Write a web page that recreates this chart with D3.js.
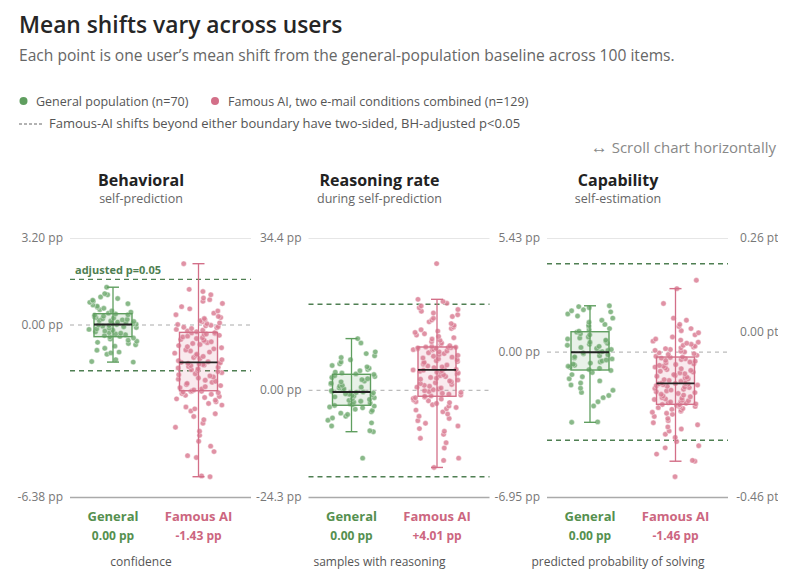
<!DOCTYPE html>
<html lang="en">
<head>
<meta charset="utf-8">
<title>Mean shifts vary across users</title>
<script src="https://cdnjs.cloudflare.com/ajax/libs/d3/7.8.5/d3.min.js"></script>
<style>
  body { margin: 0; background: #fff; font-family: 'Open Sans', sans-serif; }
  svg text { font-family: 'Open Sans', sans-serif; }
</style>
</head>
<body>
<svg id="chart" width="791" height="580"></svg>
<script>
// panels, left to right (the fourth one is scrolled off to the right)
var panelTitles = ["Behavioral", "Reasoning rate", "Capability", ""];
var panelSubtitles = ["self-prediction", "during self-prediction", "self-estimation", ""];
var panelCaptions = ["confidence", "samples with reasoning", "predicted probability of solving", ""];
var yMin = [-6.38, -24.3, -6.95, -0.46];
var yMax = [3.20, 34.4, 5.43, 0.26];
var tickValues = [[3.20, 0, -6.38], [34.4, 0, -24.3], [5.43, 0, -6.95], [0.26, 0, -0.46]];
var tickLabels = [["3.20 pp", "0.00 pp", "-6.38 pp"], ["34.4 pp", "0.00 pp", "-24.3 pp"],
                  ["5.43 pp", "0.00 pp", "-6.95 pp"], ["0.26 pt", "0.00 pt", "-0.46 pt"]];
var boundHi = [1.67, 19.4, 4.20, null];
var boundLo = [-1.71, -19.7, -4.24, null];

var groups = ["General", "Famous AI"];
var meanLabels = [["0.00 pp", "-1.43 pp"], ["0.00 pp", "+4.01 pp"], ["0.00 pp", "-1.46 pp"]];

// box stats: [whisker low, q1, median, q3, whisker high]
var generalBox = [[-1.39, -0.45, 0.00, 0.40, 1.38], [-9.5, -3.51, -0.5, 3.51, 11.6], [-3.38, -0.88, -0.03, 0.95, 2.19]];
var famousBox = [[-5.63, -2.45, -1.40, -0.29, 2.25], [-17.6, -1.47, 4.49, 9.7, 20.5], [-5.24, -2.52, -1.52, -0.26, 3.01]];

// per-user mean shifts
var behavioralGeneral = [-1.39, -1.37, -1.30, -1.10, -1.05, -1.02, -0.95, -0.88, -0.80, -0.75, -0.70, -0.66, -0.62, -0.58, -0.54, -0.50, -0.46,
  -0.44, -0.41, -0.38, -0.35, -0.32, -0.30, -0.27, -0.24, -0.21, -0.18, -0.16, -0.13, -0.11, -0.08, -0.06, -0.04, -0.02, 0.00,
  0.01, 0.03, 0.05, 0.07, 0.09, 0.11, 0.13, 0.15, 0.17, 0.19, 0.21, 0.24, 0.26, 0.29, 0.31, 0.34, 0.36, 0.39,
  0.42, 0.46, 0.50, 0.55, 0.60, 0.64, 0.68, 0.72, 0.77, 0.82, 0.86, 0.90, 0.96, 1.02, 1.10, 1.14, 1.38];
var behavioralFamous = [-5.63, -5.60, -4.92, -4.85, -4.70, -4.50, -4.32, -4.10, -3.95, -3.80, -3.65, -3.52, -3.40, -3.30, -3.20, -3.12,
  -3.05, -2.98, -2.92, -2.86, -2.80, -2.75, -2.70, -2.66, -2.62, -2.58, -2.55, -2.52, -2.50, -2.48, -2.47, -2.46,
  -2.42, -2.38, -2.34, -2.30, -2.26, -2.22, -2.18, -2.14, -2.10, -2.06, -2.02, -1.98, -1.94, -1.90, -1.86, -1.82,
  -1.78, -1.74, -1.70, -1.67, -1.64, -1.61, -1.58, -1.55, -1.52, -1.50, -1.48, -1.46, -1.44, -1.42, -1.41, -1.40,
  -1.38, -1.34, -1.30, -1.26, -1.22, -1.18, -1.14, -1.10, -1.06, -1.02, -0.98, -0.94, -0.90, -0.86, -0.82, -0.78,
  -0.74, -0.70, -0.67, -0.64, -0.61, -0.58, -0.55, -0.52, -0.49, -0.46, -0.43, -0.40, -0.37, -0.35, -0.33, -0.31, -0.30,
  -0.27, -0.24, -0.21, -0.18, -0.15, -0.12, -0.10, -0.08, -0.05, -0.03, 0.00, 0.03, 0.06, 0.10, 0.14, 0.18,
  0.22, 0.26, 0.30, 0.36, 0.42, 0.50, 0.58, 0.66, 0.78, 0.86, 0.92, 0.98, 1.10, 1.22, 1.30, 2.25];
var reasoningGeneral = [-15.5, -9.5, -9.3, -8.2, -7.5, -6.9, -6.4, -6.0, -5.6, -5.3, -5.0, -4.7, -4.4, -4.1, -3.9, -3.7, -3.55,
  -3.4, -3.2, -3.0, -2.8, -2.6, -2.4, -2.2, -2.0, -1.8, -1.6, -1.4, -1.3, -1.1, -1.0, -0.9, -0.7, -0.6, -0.5,
  -0.4, -0.2, 0.0, 0.2, 0.4, 0.6, 0.8, 1.0, 1.3, 1.5, 1.8, 2.0, 2.3, 2.5, 2.8, 3.0, 3.2, 3.45,
  3.6, 3.8, 4.0, 4.3, 4.6, 4.9, 5.2, 5.5, 5.9, 6.3, 6.8, 7.3, 7.7, 8.2, 8.6, 10.6, 11.6];
var reasoningFamous = [-17.6, -16.0, -15.5, -13.2, -12.0, -11.0, -10.1, -9.4, -8.8, -8.2, -7.6, -7.0, -6.5, -6.0, -5.5, -5.0,
  -4.6, -4.3, -4.0, -3.7, -3.4, -3.1, -2.9, -2.7, -2.5, -2.3, -2.1, -1.95, -1.8, -1.7, -1.6, -1.5,
  -1.4, -1.2, -1.0, -0.8, -0.6, -0.4, -0.2, 0.0, 0.2, 0.4, 0.6, 0.8, 1.0, 1.2, 1.4, 1.6,
  1.8, 2.0, 2.2, 2.4, 2.6, 2.8, 3.0, 3.2, 3.4, 3.6, 3.8, 4.0, 4.1, 4.2, 4.3, 4.45,
  4.5, 4.6, 4.8, 5.0, 5.2, 5.4, 5.6, 5.8, 6.0, 6.2, 6.4, 6.6, 6.8, 7.0, 7.2, 7.4, 7.6,
  7.8, 8.0, 8.2, 8.4, 8.6, 8.8, 9.0, 9.1, 9.2, 9.3, 9.4, 9.5, 9.55, 9.6, 9.65, 9.7,
  9.8, 10.0, 10.3, 10.6, 10.9, 11.2, 11.5, 11.8, 12.1, 12.4, 12.7, 13.0, 13.3, 13.6, 13.9, 14.2,
  14.6, 15.0, 15.4, 15.8, 16.2, 16.6, 17.0, 17.4, 17.8, 18.2, 18.6, 19.0, 19.6, 20.0, 20.5, 28.6];
var capabilityGeneral = [-3.38, -3.36, -2.6, -2.4, -2.2, -2.1, -1.95, -1.85, -1.75, -1.6, -1.5, -1.4, -1.3, -1.2, -1.1, -1.0, -0.9,
  -0.86, -0.8, -0.75, -0.7, -0.65, -0.6, -0.55, -0.5, -0.45, -0.4, -0.35, -0.3, -0.25, -0.2, -0.15, -0.1, -0.06, -0.03,
  0.0, 0.05, 0.1, 0.15, 0.2, 0.25, 0.3, 0.35, 0.4, 0.45, 0.5, 0.55, 0.6, 0.65, 0.7, 0.8, 0.85, 0.93,
  0.98, 1.05, 1.1, 1.2, 1.25, 1.3, 1.4, 1.5, 1.6, 1.7, 1.8, 1.9, 1.95, 2.0, 2.1, 2.15, 2.19];
var capabilityFamous = [-5.98, -5.24, -5.2, -4.9, -4.6, -4.5, -4.3, -4.1, -3.95, -3.8, -3.7, -3.6, -3.5, -3.4, -3.3, -3.2,
  -3.1, -3.0, -2.95, -2.9, -2.85, -2.8, -2.76, -2.72, -2.68, -2.64, -2.62, -2.6, -2.58, -2.56, -2.54, -2.53,
  -2.5, -2.47, -2.44, -2.41, -2.38, -2.35, -2.32, -2.29, -2.26, -2.23, -2.2, -2.16, -2.12, -2.08, -2.04, -2.0,
  -1.96, -1.92, -1.88, -1.84, -1.8, -1.76, -1.72, -1.69, -1.66, -1.63, -1.6, -1.58, -1.56, -1.54, -1.53, -1.52,
  -1.5, -1.46, -1.42, -1.38, -1.34, -1.3, -1.26, -1.22, -1.18, -1.14, -1.1, -1.06, -1.02, -0.98, -0.94, -0.9, -0.86,
  -0.82, -0.78, -0.74, -0.7, -0.66, -0.62, -0.58, -0.54, -0.5, -0.46, -0.42, -0.38, -0.34, -0.31, -0.28, -0.26,
  -0.22, -0.18, -0.14, -0.1, -0.06, -0.02, 0.02, 0.06, 0.1, 0.14, 0.18, 0.22, 0.26, 0.3, 0.35, 0.4,
  0.45, 0.5, 0.55, 0.6, 0.7, 0.8, 0.9, 1.0, 1.1, 1.2, 1.3, 1.5, 1.6, 2.3, 3.01, 3.41];

var pointsGeneral = [behavioralGeneral, reasoningGeneral, capabilityGeneral];
var pointsFamous = [behavioralFamous, reasoningFamous, capabilityFamous];

var green = "#5f9e5f", greenDark = "#4f7f52", pink = "#d36f88";
var colors = { "General": green, "Famous AI": pink };
var dotColors = { "General": "#74ad74", "Famous AI": "#db7f95" };
var textColors = { "General": "#55904f", "Famous AI": "#cc6680" };
var fills = { "General": "rgba(98,160,98,0.15)", "Famous AI": "rgba(214,114,139,0.15)" };

// fixed horizontal spread for the dots (position only, not data)
function spread(j, k, i) {
  var s = Math.sin((j + 1) * 12.9898 + k * 78.233 + i * 37.719) * 43758.5453;
  return s - Math.floor(s) - 0.5;
}

var svg = d3.select("#chart");

// header
svg.append("text").attr("x", 19).attr("y", 33).attr("font-size", 22.8).attr("font-weight", 600)
  .attr("fill", "#262626").text("Mean shifts vary across users");
svg.append("text").attr("x", 19).attr("y", 61).attr("font-size", 15.6).attr("fill", "#666")
  .text("Each point is one user\u2019s mean shift from the general-population baseline across 100 items.");

// legend
var leg = svg.append("g").attr("fill", "#555");
leg.append("circle").attr("cx", 23.5).attr("cy", 101).attr("r", 4).attr("fill", green);
leg.append("text").attr("x", 36).attr("y", 105.5).attr("font-size", 12.5).text("General population (n=70)");
leg.append("circle").attr("cx", 215).attr("cy", 101).attr("r", 4).attr("fill", pink);
leg.append("text").attr("x", 228).attr("y", 105.5).attr("font-size", 12.5).text("Famous AI, two e-mail conditions combined (n=129)");
leg.append("line").attr("x1", 19).attr("x2", 42).attr("y1", 124).attr("y2", 124)
  .attr("stroke", "#666").attr("stroke-dasharray", "3,2");
leg.append("text").attr("x", 49).attr("y", 128).attr("font-size", 13)
  .text("Famous-AI shifts beyond either boundary have two-sided, BH-adjusted p<0.05");

var scrollNote = svg.append("text").attr("x", 776).attr("y", 153).attr("text-anchor", "end")
  .attr("font-size", 15).attr("fill", "#888");
scrollNote.append("tspan").attr("font-size", 17).text("\u2194");
scrollNote.append("tspan").text(" Scroll chart horizontally");

// scrolling strip
svg.append("clipPath").attr("id", "strip").append("rect").attr("x", 0).attr("y", 160).attr("width", 778).attr("height", 420);
var strip = svg.append("g").attr("clip-path", "url(#strip)");

var plotW = 181, panelStep = 238.5, plotTop = 238, plotBottom = 497;

panelTitles.forEach(function(title, i) {
  var left = 70 + i * panelStep;
  var g = strip.append("g");
  var y = d3.scaleLinear().domain([yMin[i], yMax[i]]).range([plotBottom, plotTop]);
  var x = d3.scalePoint().domain(groups).range([left + 43, left + 128.5]);
  var mid = left + 71;

  g.append("text").attr("x", mid).attr("y", 186).attr("text-anchor", "middle").attr("font-size", 16)
    .attr("font-weight", 700).attr("fill", "#222").text(title);
  g.append("text").attr("x", mid).attr("y", 202.5).attr("text-anchor", "middle").attr("font-size", 12.5)
    .attr("fill", "#666").text(panelSubtitles[i]);

  // axis: labels + reference lines
  var axis = d3.axisLeft(y).tickValues(tickValues[i]).tickSize(0).tickPadding(7)
    .tickFormat(function(d, k) { return tickLabels[i][k]; });
  var ax = g.append("g").attr("transform", "translate(" + left + ",0)").call(axis);
  ax.select(".domain").remove();
  ax.selectAll("text").attr("font-size", 12).attr("fill", "#777").attr("font-family", "'Open Sans', sans-serif");
  ax.selectAll(".tick").append("line").attr("x1", 0).attr("x2", plotW)
    .attr("stroke", function(d, k) { return k === 0 ? "#e6e6e6" : "#aaa"; })
    .attr("stroke-width", function(d, k) { return k === 2 ? 1.6 : 1; })
    .attr("stroke-dasharray", function(d, k) { return k === 1 ? "4,4" : null; });

  if (boundHi[i] !== null) {
    [boundHi[i], boundLo[i]].forEach(function(b) {
      g.append("line").attr("x1", left).attr("x2", left + plotW).attr("y1", y(b)).attr("y2", y(b))
        .attr("stroke", greenDark).attr("stroke-width", 1.4).attr("stroke-dasharray", "5,4");
    });
  }
  if (i === 0) {
    g.append("text").attr("x", left + 5).attr("y", y(boundHi[i]) - 5).attr("font-size", 11)
      .attr("font-weight", 700).attr("fill", greenDark).text("adjusted p=0.05");
  }

  if (i > 2) return;

  // dots first, box drawn over them
  [pointsGeneral[i], pointsFamous[i]].forEach(function(vals, k) {
    var grp = groups[k], cx = x(grp);
    g.selectAll(null).data(vals).enter().append("circle")
      .attr("cx", function(d, j) { return cx + spread(j, k, i) * 48; })
      .attr("cy", function(d) { return y(d); })
      .attr("r", 2.7)
      .attr("fill", dotColors[grp]).attr("fill-opacity", 0.85)
      .attr("stroke", "#fff").attr("stroke-width", 0.4);
  });

  [generalBox[i], famousBox[i]].forEach(function(s, k) {
    var grp = groups[k], cx = x(grp), c = colors[grp], hw = 19;
    g.append("rect").attr("x", cx - hw).attr("width", hw * 2).attr("y", y(s[3])).attr("height", y(s[1]) - y(s[3]))
      .attr("fill", fills[grp]).attr("stroke", c).attr("stroke-width", 1.4);
    g.append("line").attr("x1", cx).attr("x2", cx).attr("y1", y(s[4])).attr("y2", y(s[0]))
      .attr("stroke", c).attr("stroke-width", 1.3);
    [s[0], s[4]].forEach(function(w) {
      g.append("line").attr("x1", cx - 6).attr("x2", cx + 6).attr("y1", y(w)).attr("y2", y(w))
        .attr("stroke", c).attr("stroke-width", 1.4);
    });
    g.append("line").attr("x1", cx - hw).attr("x2", cx + hw).attr("y1", y(s[2])).attr("y2", y(s[2]))
      .attr("stroke", "#222").attr("stroke-width", 1.8);
  });

  groups.forEach(function(grp, k) {
    g.append("text").attr("x", x(grp)).attr("y", 520.5).attr("text-anchor", "middle").attr("font-size", 13)
      .attr("font-weight", 700).attr("fill", textColors[grp]).text(grp);
    g.append("text").attr("x", x(grp)).attr("y", 539.5).attr("text-anchor", "middle").attr("font-size", 12)
      .attr("font-weight", 700).attr("fill", textColors[grp]).text(meanLabels[i][k]);
  });
  g.append("text").attr("x", mid).attr("y", 566).attr("text-anchor", "middle").attr("font-size", 12)
    .attr("fill", "#555").text(panelCaptions[i]);
});
</script>
</body>
</html>
